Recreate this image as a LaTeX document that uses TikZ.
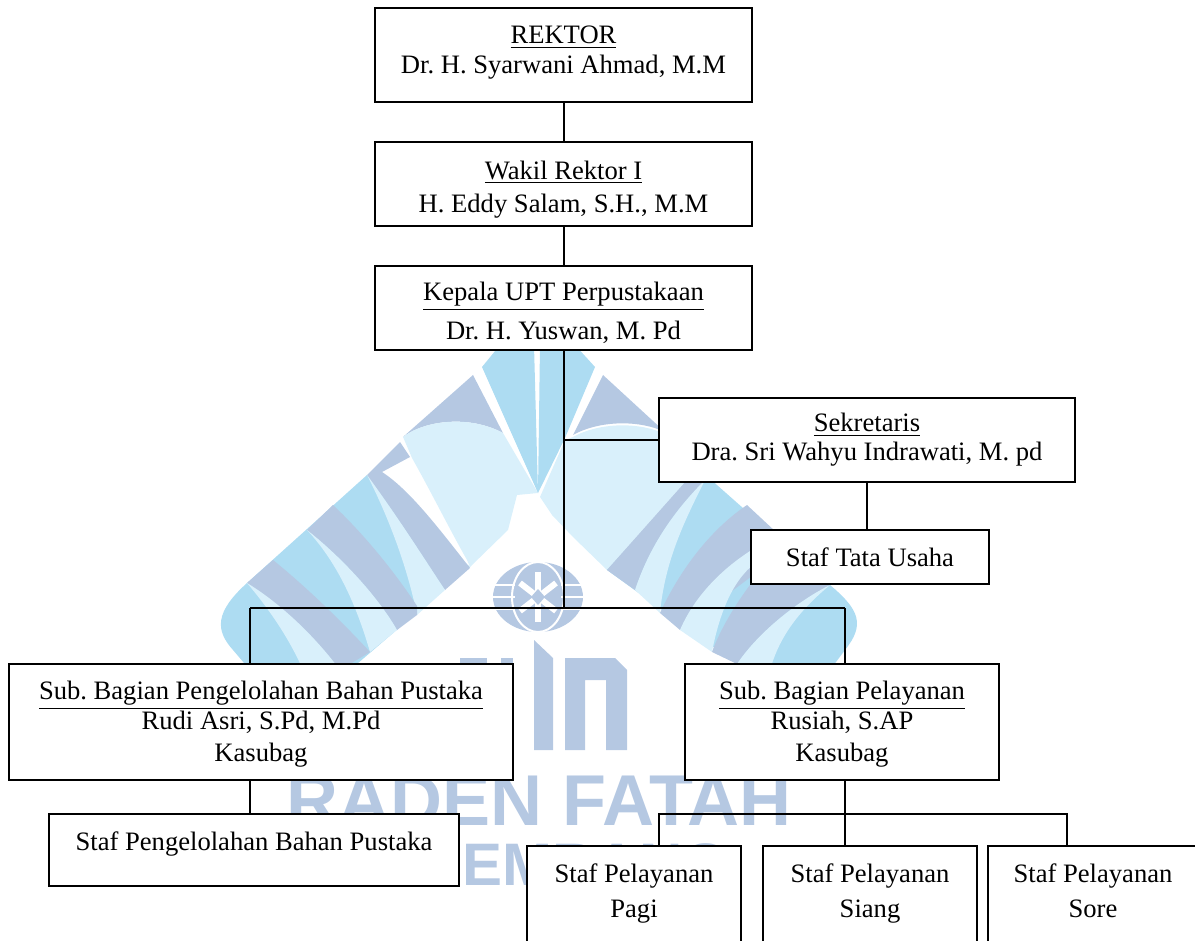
\documentclass[tikz,border=0pt]{standalone}
\usepackage{fontspec}
\usepackage{tikz}
\setmainfont{Liberation Serif}
\newfontfamily\wmfont{Liberation Sans}
\definecolor{wmslate}{HTML}{B5C8E2}
\definecolor{wmblue}{HTML}{ADDCF2}
\definecolor{wmpale}{HTML}{D9F0FB}
\newcommand{\padtop}[1]{\rule{0pt}{#1}}
\newcommand{\padbot}[1]{\rule[-#1]{0pt}{0pt}}
\tikzset{
  orgbox/.style={draw, fill=white, line width=1.2pt, align=center, inner sep=0pt,
    font=\fontsize{13.3}{15}\selectfont\frenchspacing},
  orgline/.style={line width=1pt},
  wmtext/.style={text=wmslate, inner sep=0pt}
}
\begin{document}
\begin{tikzpicture}[x=0.5pt, y=-0.5pt]
  \useasboundingbox (0,0) rectangle (1195,941);

  % Marca de agua, izquierda
  \fill[wmblue] (367,475) -- (247,583) .. controls (215,612) and (215,630) .. (233,650) -- (250,670) -- (350,670) -- (470,567) -- cycle;
  \fill[wmslate] (367,475) -- (400,442) -- (410,457) -- (382,472) .. controls (410,490) and (440,530) .. (470,568) -- (445,590) .. controls (425,560) and (400,520) .. (367,475) -- cycle;
  \fill[wmpale] (367,475) .. controls (400,520) and (425,560) .. (445,590) -- (417,615) .. controls (408,570) and (390,520) .. (367,475) -- cycle;
  \fill[wmslate] (307,530) -- (333,505) .. controls (370,540) and (400,580) .. (417,606) -- (417,615) -- (397,630) .. controls (380,600) and (345,560) .. (307,530) -- cycle;
  \fill[wmpale] (307,530) .. controls (345,560) and (380,600) .. (397,630) -- (370,652) .. controls (355,600) and (335,560) .. (307,530) -- cycle;
  \fill[wmslate] (247,583) -- (273,560) .. controls (310,590) and (345,625) .. (370,652) -- (350,664) -- (330,664) .. controls (300,625) and (275,600) .. (247,583) -- cycle;
  \fill[wmpale] (247,583) .. controls (275,600) and (310,630) .. (340,670) -- (303,670) .. controls (290,640) and (270,610) .. (247,583) -- cycle;
  \fill[wmslate] (473,375) -- (403,437) .. controls (425,420) and (470,415) .. (503,433) -- cycle;
  \fill[wmpale] (403,437) .. controls (425,420) and (470,415) .. (503,433) -- (538,493) -- (517,495) -- (508,530) -- (470,567) -- (467,560) .. controls (450,530) and (430,490) .. (412,458) -- cycle;
  \fill[wmblue] (482,367) -- (500,345) -- (534,345) -- (538,493) -- cycle;
  \fill[wmblue] (540,345) -- (575,345) -- (595,367) -- (565,438) -- (538,493) -- cycle;

  % Marca de agua, derecha
  \fill[wmslate] (603,375) -- (665,432) .. controls (640,420) and (600,420) .. (573,435) -- cycle;
  \fill[wmpale] (540,497) -- (565,440) -- (573,437) .. controls (600,422) and (640,422) .. (665,434) -- (687,483) -- (607,570) -- (573,537) -- (552,515) -- cycle;
  \fill[wmblue] (687,483) -- (700,470) -- (830,585) .. controls (860,610) and (865,625) .. (845,650) -- (830,670) -- (745,670) -- (607,570) -- cycle;
  \fill[wmslate] (607,570) -- (687,480) -- (705,480) .. controls (675,510) and (650,545) .. (635,590) -- cycle;
  \fill[wmpale] (705,480) .. controls (675,510) and (650,545) .. (635,590) -- (660,613) .. controls (665,560) and (685,520) .. (705,480) -- cycle;
  \fill[wmslate] (747,505) -- (790,545) -- (760,570) -- (680,630) -- (660,613) .. controls (680,570) and (710,530) .. (747,505) -- cycle;
  \fill[wmpale] (680,630) -- (712,652) .. controls (720,610) and (735,575) .. (760,560) -- (760,545) .. controls (725,565) and (695,595) .. (680,630) -- cycle;
  \fill[wmslate] (712,652) -- (737,664) .. controls (760,630) and (800,600) .. (830,585) -- (750,585) .. controls (735,605) and (720,630) .. (712,652) -- cycle;
  \fill[wmpale] (737,664) .. controls (760,630) and (800,600) .. (830,585) .. controls (800,610) and (780,635) .. (770,670) -- (745,670) -- cycle;

  % Globo
  \fill[wmslate] (538,597) ellipse [x radius=45, y radius=35];
  \draw[white, line width=1pt] (538,597) ellipse [x radius=26, y radius=35];
  \foreach \ypos in {585,597,609} {
    \draw[white, line width=1pt] (493,\ypos) -- (515,\ypos);
    \draw[white, line width=1pt] (561,\ypos) -- (583,\ypos);
  }
  \draw[white, line width=3pt] (538,572) -- (538,622);
  \draw[white, line width=3pt] (520,583) -- (556,611);
  \draw[white, line width=3pt] (556,583) -- (520,611);
  \fill[wmslate] (538,589) -- (545,597) -- (538,605) -- (531,597) -- cycle;

  % Letras
  \fill[wmslate] (460,658) rectangle (487,700);
  \fill[wmslate] (501,658) rectangle (513,700);
  \fill[wmslate] (534,640) -- (553,658) -- (553,750) -- (534,750) -- cycle;
  \fill[wmslate] (565,658) -- (615,658) -- (627,670) -- (627,750) -- (606,750) -- (606,680) -- (585,680) -- (585,750) -- (565,750) -- cycle;
  \node[wmtext, font=\wmfont\bfseries\fontsize{36}{36}\selectfont] (raden) at (539,801) {RADEN FATAH};
  \node[wmtext, font=\wmfont\bfseries\fontsize{30}{30}\selectfont] (palembang) at (538,865) {PALEMBANG};

  % Cajas
  \node[orgbox, minimum width=188.5pt, minimum height=47pt] (rektor) at (563.5,55) {\underline{REKTOR}\\Dr. H. Syarwani Ahmad, M.M\padbot{4.9pt}};
  \node[orgbox, minimum width=188.5pt, minimum height=42pt] (wakil) at (563.5,184) {\padtop{14.6pt}\underline{Wakil Rektor I}\\[1.5pt]H. Eddy Salam, S.H., M.M};
  \node[orgbox, minimum width=188.5pt, minimum height=42pt] (kepala) at (563.5,308) {\padtop{14.1pt}\underline{Kepala UPT Perpustakaan}\\[4.5pt]Dr. H. Yuswan, M. Pd};
  \node[orgbox, minimum width=208pt, minimum height=42pt] (sekretaris) at (867,440) {\underline{Sekretaris}\\[-0.5pt]Dra. Sri Wahyu Indrawati, M. pd};
  \node[orgbox, minimum width=119pt, minimum height=27pt] (tatausaha) at (870,557) {Staf Tata Usaha};
  \node[orgbox, minimum width=252pt, minimum height=58pt] (subpustaka) at (261,722) {\padtop{11.6pt}\underline{Sub. Bagian Pengelolahan Bahan Pustaka}\\Rudi Asri, S.Pd, M.Pd\\[1pt]Kasubag};
  \node[orgbox, minimum width=157pt, minimum height=58pt] (subpelayanan) at (842,722) {\padtop{11.6pt}\underline{Sub. Bagian Pelayanan}\\Rusiah, S.AP\\[1pt]Kasubag};
  \node[orgbox, minimum width=205pt, minimum height=36pt] (stafpustaka) at (254,850) {Staf Pengelolahan Bahan Pustaka\\[-6pt]\mbox{}};
  \node[orgbox, minimum width=107pt, minimum height=50pt] (stafpagi) at (634,896) {Staf Pelayanan\\[2.5pt]Pagi\padbot{4.9pt}};
  \node[orgbox, minimum width=107pt, minimum height=50pt] (stafsiang) at (870,896) {Staf Pelayanan\\[2.5pt]Siang\padbot{4.9pt}};
  \node[orgbox, minimum width=105pt, minimum height=50pt] (stafsore) at (1093,896) {Staf Pelayanan\\[2.5pt]Sore\padbot{4.9pt}};

  % Puntos de union
  \coordinate (barL) at (250,608);
  \coordinate (barR) at (845,608);
  \coordinate (barPL) at (659,814);
  \coordinate (barPR) at (1067,814);

  % Lineas
  \draw[orgline] (rektor) -- (wakil);
  \draw[orgline] (wakil) -- (kepala);
  \draw[orgline] (kepala.south) -- (kepala.south |- barL);
  \draw[orgline] (sekretaris.west) -- (sekretaris.west -| kepala.south);
  \draw[orgline] (sekretaris.south) -- (sekretaris.south |- tatausaha.north);
  \draw[orgline] (barL) -- (barR);
  \draw[orgline] (barL) -- (barL |- subpustaka.north);
  \draw[orgline] (barR) -- (barR |- subpelayanan.north);
  \draw[orgline] (barL |- subpustaka.south) -- (barL |- stafpustaka.north);
  \draw[orgline] (barR |- subpelayanan.south) -- (barR |- stafsiang.north);
  \draw[orgline] (barPL |- stafpagi.north) -- (barPL) -- (barPR) -- (barPR |- stafsore.north);
\end{tikzpicture}
\end{document}
